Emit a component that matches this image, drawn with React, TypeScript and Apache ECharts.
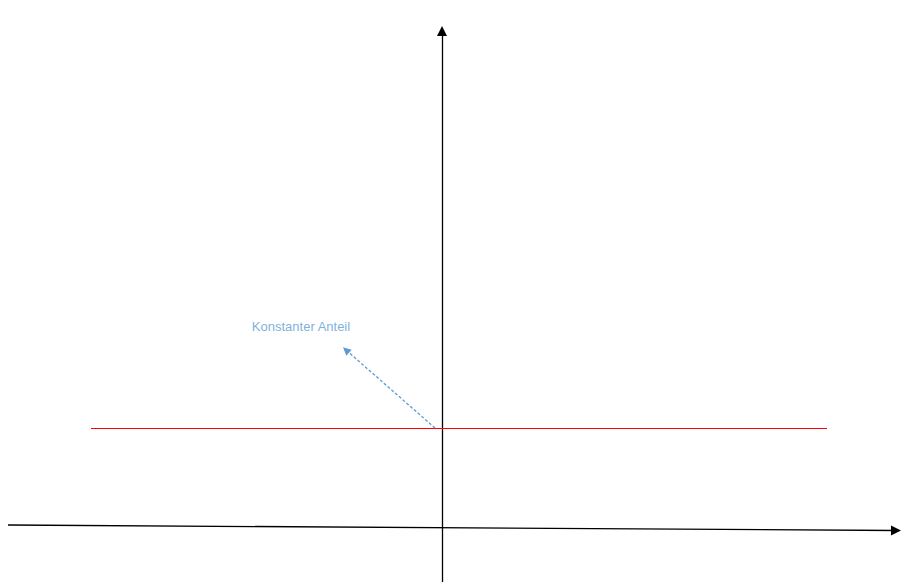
import React, { useEffect, useRef } from "react";
import * as echarts from "echarts";

// Schematic coordinate system: origin where the two axes cross
const xRange = [-442, 475];
const yRange = [-55, 527];
const horizontalAxis = [[-434, 2], [454, -3.5]];
const verticalAxis = [[0, -55], [0, 496]];
const constantLine = [[-351, 99], [385, 99]];
const annotationArrow = [[-7, 99], [-96, 177]];
const annotationLabel = "Konstanter Anteil";
const annotationPos = [-141, 201];

export default function App() {
  const ref = useRef<HTMLDivElement>(null);
  useEffect(() => {
    const chart = echarts.init(ref.current!, null, { renderer: "svg" });
    chart.setOption({
      animation: false,
      backgroundColor: "#ffffff",
      grid: { left: 0, right: 0, top: 0, bottom: 0 },
      xAxis: { type: "value", min: xRange[0], max: xRange[1], show: false },
      yAxis: { type: "value", min: yRange[0], max: yRange[1], show: false },
      series: [
        {
          type: "lines",
          coordinateSystem: "cartesian2d",
          symbol: ["none", "triangle"],
          symbolSize: [8, 10],
          lineStyle: { color: "#000000", width: 1.3, opacity: 1 },
          data: [{ coords: horizontalAxis }, { coords: verticalAxis }],
          silent: true,
        },
        {
          type: "lines",
          coordinateSystem: "cartesian2d",
          symbol: ["none", "none"],
          lineStyle: { color: "#ff0000", width: 1.2, opacity: 1 },
          data: [{ coords: constantLine }],
          silent: true,
        },
        {
          type: "lines",
          coordinateSystem: "cartesian2d",
          symbol: ["none", "triangle"],
          symbolSize: [7, 8],
          lineStyle: { color: "#5b9bd5", width: 1.3, type: [3, 2], opacity: 1 },
          data: [{ coords: annotationArrow }],
          silent: true,
        },
        {
          type: "scatter",
          symbolSize: 0,
          data: [annotationPos],
          label: {
            show: true,
            position: "inside",
            formatter: annotationLabel,
            color: "#5b9bd5",
            fontSize: 13,
            fontFamily: "Liberation Sans, Arial, sans-serif",
          },
          silent: true,
        },
      ],
    });
    return () => chart.dispose();
  }, []);
  return (
    <div
      ref={ref}
      style={{ position: "fixed", left: 0, top: 0, width: 917, height: 582 }}
    />
  );
}
